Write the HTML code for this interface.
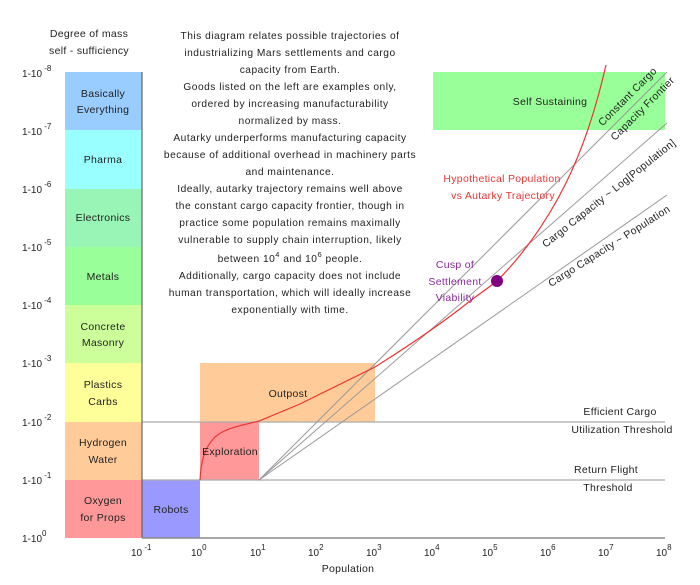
<!DOCTYPE html>
<html><head><meta charset="utf-8"><style>
html,body{margin:0;padding:0;background:#fff;}
svg{display:block;font-family:"Liberation Sans",sans-serif;}
</style></head><body>
<svg width="700" height="585" viewBox="0 0 700 585" xmlns="http://www.w3.org/2000/svg">
<rect x="65" y="480" width="77" height="58" fill="#f99"/>
<rect x="65" y="422" width="77" height="58" fill="#fc9"/>
<rect x="65" y="363" width="77" height="59" fill="#ff9"/>
<rect x="65" y="305" width="77" height="58" fill="#cf9"/>
<rect x="65" y="247" width="77" height="58" fill="#9f9"/>
<rect x="65" y="189" width="77" height="58" fill="#99f5b5"/>
<rect x="65" y="130" width="77" height="59" fill="#9ff"/>
<rect x="65" y="72" width="77" height="58" fill="#9cf"/>
<rect x="142" y="480" width="58" height="58" fill="#99f"/>
<rect x="200" y="422" width="59" height="58" fill="#f99"/>
<rect x="200" y="363" width="175" height="59" fill="#fc9"/>
<rect x="433" y="72" width="232" height="58" fill="#9f9"/>
<line x1="142" y1="422" x2="665" y2="422" stroke="#aaa" stroke-width="1.2"/>
<line x1="142" y1="480" x2="665" y2="480" stroke="#aaa" stroke-width="1.2"/>
<line x1="259" y1="480" x2="667" y2="72" stroke="#999" stroke-width="1"/>
<line x1="259" y1="480" x2="667" y2="123" stroke="#999" stroke-width="1"/>
<line x1="259" y1="480" x2="667" y2="195" stroke="#999" stroke-width="1"/>
<line x1="142" y1="72" x2="142" y2="538" stroke="#666" stroke-width="1.2"/>
<line x1="142" y1="538" x2="665" y2="538" stroke="#888" stroke-width="1.5"/>
<path d="M200,480 C201,462 204,448 215,437 C225,428 240,426 259,421 L300,404 L375,367 C410,345 440,325 470,301 C485,290 492,285 497,281 C520,258 545,225 565,185 C585,145 598,100 606,65" fill="none" stroke="#e33" stroke-width="1.2"/>
<circle cx="497" cy="281" r="6" fill="#800080"/>
<g font-size="10.5" fill="#222" text-anchor="middle" letter-spacing="0.3">
<text x="103" y="97">Basically</text><text x="103" y="113">Everything</text>
<text x="103" y="163">Pharma</text>
<text x="103" y="221">Electronics</text>
<text x="103" y="280">Metals</text>
<text x="103" y="330">Concrete</text><text x="103" y="346">Masonry</text>
<text x="103" y="388">Plastics</text><text x="103" y="405">Carbs</text>
<text x="103" y="446">Hydrogen</text><text x="103" y="463">Water</text>
<text x="103" y="504">Oxygen</text><text x="103" y="521">for Props</text>
<text x="171" y="513">Robots</text>
<text x="230" y="455">Exploration</text>
<text x="288" y="397">Outpost</text>
<text x="550" y="105">Self Sustaining</text>
<text x="89" y="37">Degree of mass</text>
<text x="89" y="54">self - sufficiency</text>
<text x="348" y="572">Population</text>
<text x="620" y="415">Efficient Cargo</text>
<text x="622" y="433">Utilization Threshold</text>
<text x="606" y="473">Return Flight</text>
<text x="608" y="491">Threshold</text>
</g>
<g font-size="10.5" fill="#e33" text-anchor="middle" letter-spacing="0.3">
<text x="502" y="182">Hypothetical Population</text>
<text x="503" y="199">vs Autarky Trajectory</text>
</g>
<g font-size="10.5" fill="#8a2a9a" text-anchor="middle" letter-spacing="0.3">
<text x="455" y="268">Cusp of</text>
<text x="455" y="285">Settlement</text>
<text x="455" y="301">Viability</text>
</g>
<g font-size="10.5" fill="#222" text-anchor="middle" letter-spacing="0.3">
<text transform="translate(630,99) rotate(-45)">Constant Cargo</text>
<text transform="translate(645,111) rotate(-45)">Capacity Frontier</text>
<text transform="translate(611,196) rotate(-38.5)">Cargo Capacity ~ Log[Population]</text>
<text transform="translate(611,249) rotate(-32.5)">Cargo Capacity ~ Population</text>
</g>
<g font-size="10.2" fill="#222" text-anchor="middle" letter-spacing="0.5">
<text x="290" y="39">This diagram relates possible trajectories of</text>
<text x="290" y="56">industrializing Mars settlements and cargo</text>
<text x="290" y="73">capacity from Earth.</text>
<text x="290" y="90">Goods listed on the left are examples only,</text>
<text x="290" y="107">ordered by increasing manufacturability</text>
<text x="290" y="124">normalized by mass.</text>
<text x="290" y="141">Autarky underperforms manufacturing capacity</text>
<text x="290" y="158">because of additional overhead in machinery parts</text>
<text x="290" y="175">and maintenance.</text>
<text x="290" y="192">Ideally, autarky trajectory remains well above</text>
<text x="290" y="209">the constant cargo capacity frontier, though in</text>
<text x="290" y="226">practice some population remains maximally</text>
<text x="290" y="243">vulnerable to supply chain interruption, likely</text>
<text x="290" y="262">between 10<tspan font-size="7.5" dy="-5">4</tspan><tspan dy="5"> and 10</tspan><tspan font-size="7.5" dy="-5">6</tspan><tspan dy="5"> people.</tspan></text>
<text x="290" y="279">Additionally, cargo capacity does not include</text>
<text x="290" y="296">human transportation, which will ideally increase</text>
<text x="290" y="313">exponentially with time.</text>
</g>
<g font-size="10" fill="#222">
<text x="22" y="77">1-10<tspan font-size="8" dy="-6"> -8</tspan></text>
<text x="22" y="135">1-10<tspan font-size="8" dy="-6"> -7</tspan></text>
<text x="22" y="193">1-10<tspan font-size="8" dy="-6"> -6</tspan></text>
<text x="22" y="251">1-10<tspan font-size="8" dy="-6"> -5</tspan></text>
<text x="22" y="309">1-10<tspan font-size="8" dy="-6"> -4</tspan></text>
<text x="22" y="367">1-10<tspan font-size="8" dy="-6"> -3</tspan></text>
<text x="22" y="426">1-10<tspan font-size="8" dy="-6"> -2</tspan></text>
<text x="22" y="484">1-10<tspan font-size="8" dy="-6"> -1</tspan></text>
<text x="22" y="542">1-10<tspan font-size="8" dy="-6">0</tspan></text>
</g>
<g font-size="10" fill="#222">
<text x="131" y="556">10<tspan font-size="8" dy="-6"> -1</tspan></text>
<text x="191" y="556">10<tspan font-size="8" dy="-6">0</tspan></text>
<text x="250" y="556">10<tspan font-size="8" dy="-6">1</tspan></text>
<text x="308" y="556">10<tspan font-size="8" dy="-6">2</tspan></text>
<text x="366" y="556">10<tspan font-size="8" dy="-6">3</tspan></text>
<text x="424" y="556">10<tspan font-size="8" dy="-6">4</tspan></text>
<text x="482" y="556">10<tspan font-size="8" dy="-6">5</tspan></text>
<text x="540" y="556">10<tspan font-size="8" dy="-6">6</tspan></text>
<text x="598" y="556">10<tspan font-size="8" dy="-6">7</tspan></text>
<text x="656" y="556">10<tspan font-size="8" dy="-6">8</tspan></text>
</g>
</svg>
</body></html>
